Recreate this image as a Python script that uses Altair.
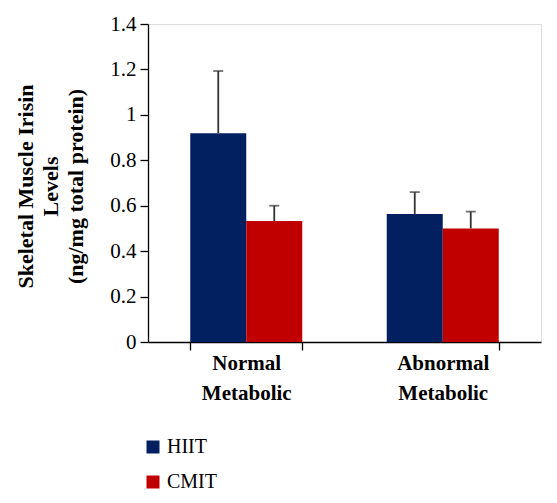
import altair as alt
import pandas as pd

groups = ["Normal Metabolic", "Abnormal Metabolic"]
series = ["HIIT", "CMIT"]
hiit_values = [0.919, 0.564]
cmit_values = [0.533, 0.500]
hiit_err = [0.274, 0.096]
cmit_err = [0.067, 0.074]
colors = ["#022060", "#C00000"]

rows = []
for i, g in enumerate(groups):
    rows.append({"group": g, "series": "HIIT", "value": hiit_values[i], "upper": hiit_values[i] + hiit_err[i]})
    rows.append({"group": g, "series": "CMIT", "value": cmit_values[i], "upper": cmit_values[i] + cmit_err[i]})
df = pd.DataFrame(rows)

FONT = "Liberation Serif"

x = alt.X("group:N", sort=groups, title=None,
          scale=alt.Scale(paddingInner=0.43, paddingOuter=0.215),
          axis=alt.Axis(labelExpr="split(datum.label, ' ')", labelAngle=0,
                        labelFont=FONT, labelFontSize=21, labelFontWeight="bold",
                        labelColor="black", labelLineHeight=30, labelBaseline="top",
                        labelPadding=2, tickBand="extent", tickSize=8, tickColor="black",
                        tickWidth=1.3, domainColor="black", domainWidth=1.3))
xo = alt.XOffset("series:N", sort=series, scale=alt.Scale(paddingInner=0, paddingOuter=0))
y = alt.Y("value:Q",
          scale=alt.Scale(domain=[0, 1.4], nice=False),
          axis=alt.Axis(values=[0, 0.2, 0.4, 0.6, 0.8, 1.0, 1.2, 1.4], format="~g",
                        grid=False, labelFont=FONT, labelFontSize=21, labelColor="black",
                        labelPadding=4, tickSize=8, tickColor="black", tickWidth=1.3,
                        domainColor="black", domainWidth=1.3,
                        title=["Skeletal Muscle Irisin", "Levels", "(ng/mg total protein)"],
                        titleFont=FONT, titleFontSize=22, titleFontWeight="bold",
                        titleColor="black", titleLineHeight=25, titleAngle=270,
                        titleAlign="center", titleBaseline="middle",
                        titleX=-123, titleY=162))

bars = alt.Chart(df).mark_bar().encode(
    x=x, xOffset=xo, y=y,
    color=alt.Color("series:N", sort=series,
                    scale=alt.Scale(domain=series, range=colors),
                    legend=alt.Legend(title=None, orient="none", legendX=-5, legendY=413,
                                      symbolType="square", symbolSize=169,
                                      symbolStrokeWidth=0, labelFont=FONT,
                                      labelFontSize=20, labelColor="black",
                                      labelOffset=4, rowPadding=15, padding=0)),
)

err = alt.Chart(df).mark_rule(color="#333333", strokeWidth=1.8).encode(
    x=alt.X("group:N", sort=groups), xOffset=xo,
    y=alt.Y("value:Q"), y2="upper:Q",
)
cap = alt.Chart(df).mark_tick(color="#333333", thickness=1.8, size=10, orient="horizontal").encode(
    x=alt.X("group:N", sort=groups), xOffset=xo,
    y=alt.Y("upper:Q"),
)

chart = alt.layer(bars, err, cap).properties(
    width=393, height=318,
    autosize=alt.AutoSizeParams(type="none"),
    padding={"left": 140, "top": 16, "right": 8, "bottom": 153},
).configure_view(stroke=None).configure(background="white")

chart.save("out.html", embed_options={"renderer": "svg", "actions": False})
